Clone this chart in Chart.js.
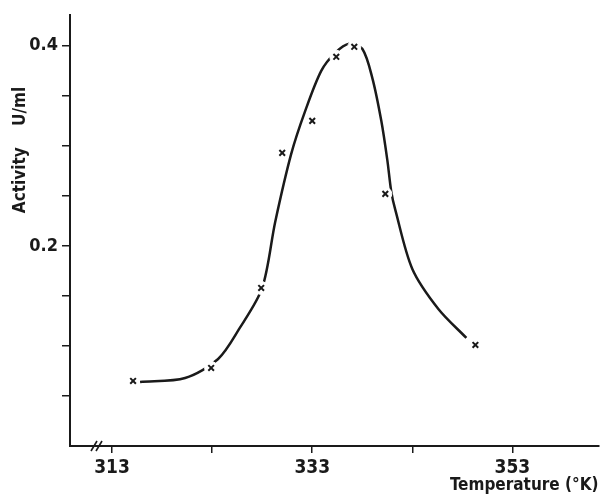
<!DOCTYPE html>
<html>
<head>
<meta charset="utf-8">
<script src="https://cdn.jsdelivr.net/npm/chart.js@4.4.1/dist/chart.umd.min.js"></script>
<style>
html,body{margin:0;padding:0;background:#fff;}
#wrap{width:606px;height:496px;}
</style>
</head>
<body>
<div id="wrap"><canvas id="c" width="606" height="496"></canvas></div>
<script>
// Measured points (crosses)
const temperatures = [315.1, 322.9, 327.9, 330.0, 333.0, 335.4, 337.2, 340.3, 349.3];
const activities   = [0.065, 0.078, 0.158, 0.293, 0.325, 0.389, 0.399, 0.252, 0.101];

// Hand-drawn smooth curve
const curveTemps  = [315.8, 320.3, 323.6, 325.7, 328.0, 329.3, 330.9, 332.3, 333.9, 335.3, 336.7, 338.0, 339.0, 339.9, 340.5, 340.9, 341.3, 343.0, 345.6, 348.4];
const curveValues = [0.064, 0.068, 0.087, 0.117, 0.158, 0.224, 0.292, 0.335, 0.375, 0.393, 0.402, 0.397, 0.368, 0.325, 0.286, 0.254, 0.236, 0.177, 0.137, 0.108];

// Axis ticks
const xTickValues = [313, 323, 333, 343, 353];
const xTickLabels = ['313', '', '333', '', '353'];
const yTickValues = [0.05, 0.10, 0.15, 0.20, 0.25, 0.30, 0.35, 0.40];
const yTickLabels = ['', '', '', '0.2', '', '', '', '0.4'];

const xTitle = 'Temperature (°K)';
const yTitle = 'Activity    U/ml';

const ink = '#1a1a1a';
const fontFamily = '"DejaVu Sans Condensed", "DejaVu Sans", sans-serif';

const pts = temperatures.map((t, i) => ({x: t, y: activities[i]}));
const curve = curveTemps.map((t, i) => ({x: t, y: curveValues[i]}));

const extras = {
  id: 'extras',
  afterDraw(chart) {
    const ctx = chart.ctx;
    const ca = chart.chartArea;
    ctx.save();
    // y axis title
    ctx.translate(21, 150);
    ctx.rotate(-Math.PI / 2);
    ctx.fillStyle = ink;
    ctx.font = 'bold 17px ' + fontFamily;
    ctx.textAlign = 'center';
    ctx.textBaseline = 'middle';
    ctx.fillText(yTitle, 0, 0);
    ctx.restore();
    // axis break marks
    ctx.save();
    ctx.strokeStyle = ink;
    ctx.lineWidth = 1.6;
    const bx = ca.left + 24, by = ca.bottom;
    [0, 5].forEach(off => {
      ctx.beginPath();
      ctx.moveTo(bx + off - 3, by + 5);
      ctx.lineTo(bx + off + 3, by - 5);
      ctx.stroke();
    });
    ctx.restore();
  }
};

new Chart(document.getElementById('c'), {
  type: 'scatter',
  data: {
    datasets: [
      {
        label: 'measured',
        data: pts,
        pointStyle: 'crossRot',
        pointRadius: 4,
        borderColor: ink,
        borderWidth: 2,
        showLine: false,
        order: 0
      },
      {
        label: 'mask',
        data: pts,
        pointStyle: 'circle',
        pointRadius: 6.5,
        backgroundColor: '#ffffff',
        borderColor: '#ffffff',
        borderWidth: 1,
        showLine: false,
        order: 1
      },
      {
        label: 'curve',
        data: curve,
        showLine: true,
        pointRadius: 0,
        borderColor: ink,
        borderWidth: 2.5,
        tension: 0.3,
        fill: false,
        order: 2
      }
    ]
  },
  options: {
    responsive: false,
    animation: false,
    layout: {padding: {top: 12, right: 6, left: 0, bottom: 0}},
    plugins: {legend: {display: false}, tooltip: {enabled: false}},
    scales: {
      x: {
        type: 'linear',
        min: 308.8,
        max: 361.6,
        afterFit(s) { s.height = 50; },
        afterBuildTicks(s) { s.ticks = xTickValues.map(v => ({value: v})); },
        border: {display: true, color: ink, width: 2},
        grid: {drawOnChartArea: false, drawTicks: true, tickLength: 7, color: ink, lineWidth: 1.5},
        ticks: {
          color: ink,
          font: {family: fontFamily, size: 19, weight: 'bold'},
          padding: 4,
          maxRotation: 0,
          autoSkip: false,
          callback: (v) => { const i = xTickValues.indexOf(v); return i >= 0 ? xTickLabels[i] : ''; }
        },
        title: {
          display: true,
          text: xTitle,
          align: 'end',
          color: ink,
          font: {family: fontFamily, size: 17, weight: 'bold'},
          padding: {top: 0, bottom: 0}
        }
      },
      y: {
        type: 'linear',
        min: 0,
        max: 0.431,
        afterFit(s) { s.width = 70; },
        afterBuildTicks(s) { s.ticks = yTickValues.map(v => ({value: v})); },
        border: {display: true, color: ink, width: 2},
        grid: {drawOnChartArea: false, drawTicks: true, tickLength: 8, color: ink, lineWidth: 1.5},
        ticks: {
          color: ink,
          font: {family: fontFamily, size: 18, weight: 'bold'},
          padding: 4,
          autoSkip: false,
          callback: (v) => {
            const i = yTickValues.findIndex(t => Math.abs(t - v) < 1e-6);
            return i >= 0 ? yTickLabels[i] : '';
          }
        }
      }
    }
  },
  plugins: [extras]
});
</script>
</body>
</html>
